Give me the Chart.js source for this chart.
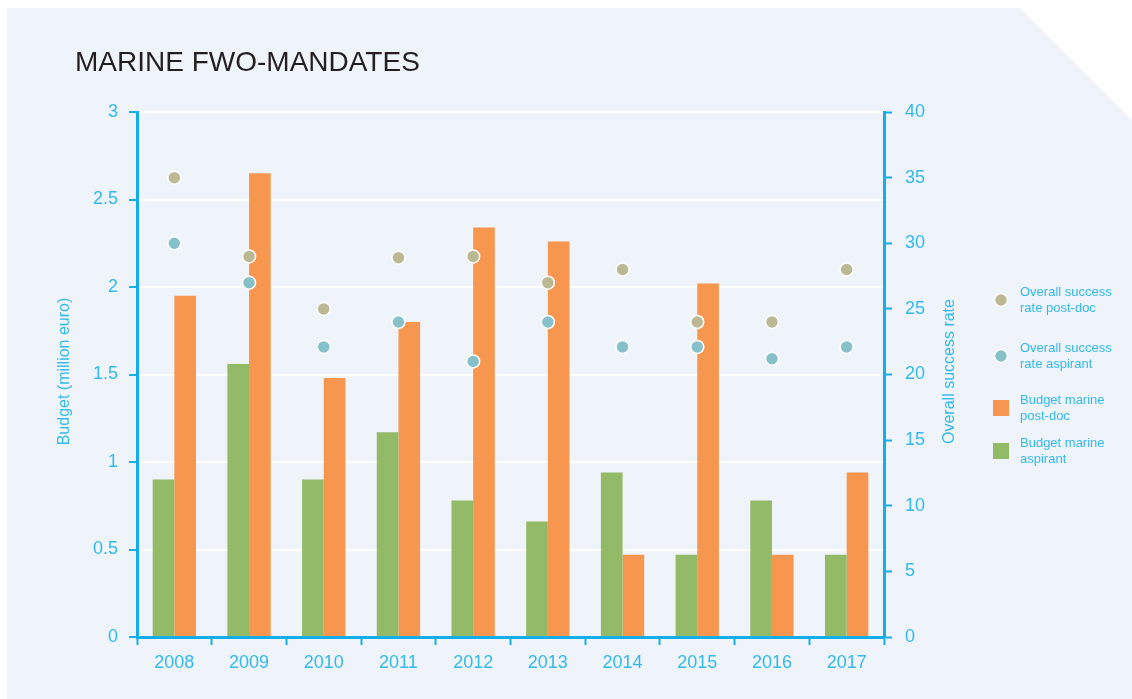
<!DOCTYPE html>
<html>
<head>
<meta charset="utf-8">
<script src="https://cdn.jsdelivr.net/npm/chart.js@4/dist/chart.umd.min.js"></script>
<style>
  html, body { margin: 0; padding: 0; background: #ffffff; }
  #wrap { width: 1132px; height: 699px; position: relative; }
</style>
</head>
<body>
<div id="wrap"><canvas id="c" width="1132" height="699"></canvas></div>
<script>
const years = ['2008','2009','2010','2011','2012','2013','2014','2015','2016','2017'];
const budgetAspirant = [0.90, 1.56, 0.90, 1.17, 0.78, 0.66, 0.94, 0.47, 0.78, 0.47];
const budgetPostdoc  = [1.95, 2.65, 1.48, 1.80, 2.34, 2.26, 0.47, 2.02, 0.47, 0.94];
const successPostdoc  = [35, 29, 25, 28.9, 29, 27, 28, 24, 24, 28];
const successAspirant = [30, 27, 22.1, 24, 21, 24, 22.1, 22.1, 21.2, 22.1];
const leftTicks = [0, 0.5, 1, 1.5, 2, 2.5, 3];
const rightTicks = [0, 5, 10, 15, 20, 25, 30, 35, 40];

const titleText = 'MARINE FWO-MANDATES';
const leftAxisTitle = 'Budget (million euro)';
const rightAxisTitle = 'Overall success rate';
const legendPostdocRate = ['Overall success', 'rate post-doc'];
const legendAspirantRate = ['Overall success', 'rate aspirant'];
const legendBudgetPostdoc = ['Budget marine', 'post-doc'];
const legendBudgetAspirant = ['Budget marine', 'aspirant'];

const AXIS = '#12aee9';
const TEXT = '#33b9ec';
const FONT = "'Liberation Sans', Arial, Helvetica, sans-serif";
const C_ORANGE = '#f7964f';
const C_GREEN = '#93ba66';
const C_TAN = '#bcb894';
const C_TEAL = '#86c0c8';

const decor = {
  id: 'decor',
  beforeDraw(chart) {
    const ctx = chart.ctx;
    ctx.save();
    ctx.fillStyle = '#ffffff';
    ctx.fillRect(0, 0, chart.width, chart.height);
    ctx.fillStyle = '#eff3fa';
    ctx.beginPath();
    ctx.moveTo(7, 8);
    ctx.lineTo(1020, 8);
    ctx.lineTo(1132, 120);
    ctx.lineTo(1132, 699);
    ctx.lineTo(7, 699);
    ctx.closePath();
    ctx.fill();
    ctx.restore();
  },
  afterDraw(chart) {
    const ctx = chart.ctx;
    const area = chart.chartArea;
    ctx.save();
    // title
    ctx.fillStyle = '#231f20';
    ctx.font = '28px ' + FONT;
    ctx.textAlign = 'left';
    ctx.textBaseline = 'alphabetic';
    ctx.fillText(titleText, 75, 71);
    // axis titles
    const midY = (area.top + area.bottom) / 2 - 3;
    ctx.fillStyle = TEXT;
    ctx.font = '16px ' + FONT;
    ctx.textAlign = 'center';
    ctx.textBaseline = 'middle';
    ctx.save();
    ctx.translate(65, midY);
    ctx.rotate(-Math.PI / 2);
    ctx.fillText(leftAxisTitle, 0, 0);
    ctx.restore();
    ctx.save();
    ctx.translate(950, midY);
    ctx.rotate(-Math.PI / 2);
    ctx.fillText(rightAxisTitle, 0, 0);
    ctx.restore();
    // legend
    const items = [
      {type: 'circle', color: C_TAN, lines: legendPostdocRate, y: 300},
      {type: 'circle', color: C_TEAL, lines: legendAspirantRate, y: 356},
      {type: 'rect', color: C_ORANGE, lines: legendBudgetPostdoc, y: 408},
      {type: 'rect', color: C_GREEN, lines: legendBudgetAspirant, y: 451}
    ];
    ctx.font = '13px ' + FONT;
    ctx.textAlign = 'left';
    ctx.textBaseline = 'middle';
    items.forEach(it => {
      if (it.type === 'circle') {
        ctx.beginPath();
        ctx.arc(1001, it.y, 6.5, 0, Math.PI * 2);
        ctx.fillStyle = it.color;
        ctx.fill();
        ctx.lineWidth = 1.5;
        ctx.strokeStyle = '#ffffff';
        ctx.stroke();
      } else {
        ctx.fillStyle = it.color;
        ctx.fillRect(993, it.y - 8, 16, 16);
      }
      ctx.fillStyle = TEXT;
      ctx.fillText(it.lines[0], 1020, it.y - 8);
      ctx.fillText(it.lines[1], 1020, it.y + 8);
    });
    ctx.restore();
  }
};

new Chart(document.getElementById('c'), {
  type: 'bar',
  data: {
    labels: years,
    datasets: [
      { type: 'line', label: 'Overall success rate post-doc', data: successPostdoc, yAxisID: 'y1', showLine: false,
        pointRadius: 6.5, pointHoverRadius: 6.5, pointBackgroundColor: C_TAN, pointBorderColor: '#ffffff', pointBorderWidth: 1.5, order: 0 },
      { type: 'line', label: 'Overall success rate aspirant', data: successAspirant, yAxisID: 'y1', showLine: false,
        pointRadius: 6.5, pointHoverRadius: 6.5, pointBackgroundColor: C_TEAL, pointBorderColor: '#ffffff', pointBorderWidth: 1.5, order: 0 },
      { type: 'bar', label: 'Budget marine aspirant', data: budgetAspirant, yAxisID: 'y', backgroundColor: C_GREEN,
        categoryPercentage: 0.58, barPercentage: 1.0, order: 1 },
      { type: 'bar', label: 'Budget marine post-doc', data: budgetPostdoc, yAxisID: 'y', backgroundColor: C_ORANGE,
        categoryPercentage: 0.58, barPercentage: 1.0, order: 1 }
    ]
  },
  options: {
    responsive: false,
    devicePixelRatio: 1,
    animation: false,
    layout: { padding: { left: 0, right: 0, top: 112, bottom: 0 } },
    plugins: { legend: { display: false }, tooltip: { enabled: false }, title: { display: false } },
    scales: {
      x: {
        type: 'category',
        offset: true,
        grid: { display: true, drawOnChartArea: false, drawTicks: true, tickLength: 8, tickColor: AXIS, tickWidth: 2, offset: true },
        border: { display: true, color: AXIS, width: 3 },
        ticks: { color: TEXT, font: { family: FONT, size: 18 }, padding: 7, maxRotation: 0 },
        afterFit(s) { s.height = 62; }
      },
      y: {
        position: 'left',
        min: 0, max: 3,
        afterBuildTicks(s) { s.ticks = leftTicks.map(v => ({ value: v })); },
        ticks: { color: TEXT, font: { family: FONT, size: 18 }, padding: 11, callback: v => String(v) },
        grid: { color: '#ffffff', lineWidth: 2, tickColor: AXIS, tickLength: 8, tickWidth: 2 },
        border: { display: true, color: AXIS, width: 3 },
        afterFit(s) { s.width = 137; }
      },
      y1: {
        position: 'right',
        min: 0, max: 40,
        afterBuildTicks(s) { s.ticks = rightTicks.map(v => ({ value: v })); },
        ticks: { color: TEXT, font: { family: FONT, size: 18 }, padding: 13, callback: v => String(v) },
        grid: { drawOnChartArea: false, tickColor: AXIS, tickLength: 8, tickWidth: 2 },
        border: { display: true, color: AXIS, width: 3 },
        afterFit(s) { s.width = 248; }
      }
    }
  },
  plugins: [decor]
});
</script>
</body>
</html>
